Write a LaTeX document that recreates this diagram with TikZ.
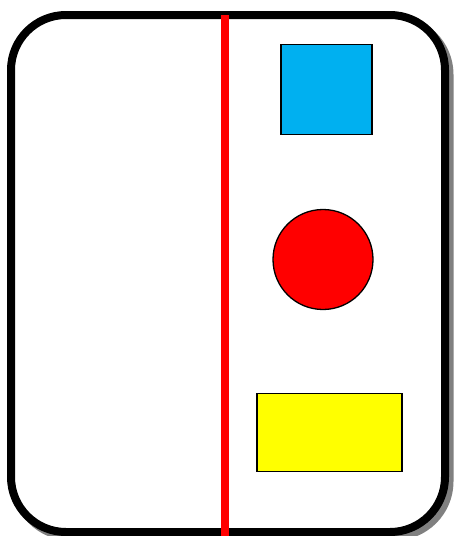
\documentclass[tikz,border=0pt]{standalone}
\definecolor{skyblue}{HTML}{00B0F0}
\definecolor{pureyellow}{RGB}{255,255,0}
\definecolor{purered}{RGB}{255,0,0}
\definecolor{shadowgray}{RGB}{128,128,128}
\begin{document}
\begin{tikzpicture}[x=1pt,y=-1pt,
  cardshape/.style={line width=8pt,rounded corners=55pt,minimum width=434pt,minimum height=517pt,inner sep=0pt,outer sep=0pt},
  frame/.style={cardshape,draw=black,fill=white},
  cardshadow/.style={cardshape,draw=shadowgray,fill=shadowgray},
  shapebox/.style={draw=black,line width=1.3pt,inner sep=0pt,outer sep=0pt},
  divider/.style={draw=purered,line width=7.5pt}]
\useasboundingbox (0,0) rectangle (453,536);
\node[cardshadow] (shadow) at (232.5,278) {};
\node[frame] (card) at (228,273.5) {};
\node[shapebox,fill=skyblue,minimum width=91pt,minimum height=90pt] (sq) at (326.5,89.5) {};
\node[shapebox,fill=purered,circle,minimum size=100pt] (ci) at (323,259.5) {};
\node[shapebox,fill=pureyellow,minimum width=145pt,minimum height=78pt] (ye) at (329.5,432.5) {};
\coordinate (bot) at (225,540);
\draw[divider] (card.north -| bot) -- (bot);
\end{tikzpicture}
\end{document}
